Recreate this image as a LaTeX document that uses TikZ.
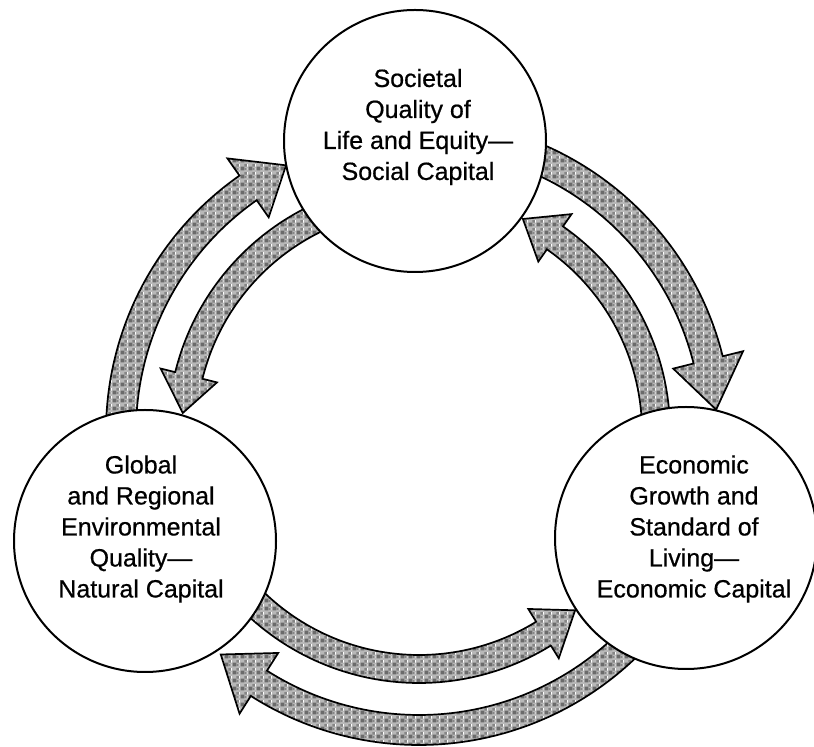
\documentclass[tikz,border=0pt]{standalone}
\usepackage{fontspec}
\setmainfont{Liberation Sans}
\usetikzlibrary{patterns.meta}
\definecolor{arrowgray}{gray}{0.72}
\definecolor{blotgray}{gray}{0.42}
\definecolor{blotgrayb}{gray}{0.52}
\tikzdeclarepattern{
  name=mottle,
  type=colored,
  bottom left={(0pt,0pt)},
  top right={(8pt,8pt)},
  tile size={(8pt,8pt)},
  code={
    \fill[blotgray] (0.8pt,0.8pt) rectangle (4.8pt,4.8pt);
    \fill[blotgrayb] (4.8pt,4.8pt) rectangle (7.6pt,7.6pt);
    \fill[blotgrayb] (5.2pt,1.2pt) rectangle (7.2pt,3.2pt);
  }
}
\tikzset{
  blockarrow/.style={preaction={fill=arrowgray},
    preaction={pattern=mottle},
    draw=black, line width=1.7pt},
  bubble/.style={circle, draw=black, line width=2pt, fill=white,
    minimum size=262pt, inner sep=0pt},
  caption/.style={align=center, inner sep=0pt,
    font=\addfontfeature{FakeBold=0.6}\fontsize{25}{31}\selectfont}
}
% #1 mid radius, #2 half width, #3 head overhang, #4 tail angle, #5 head base angle, #6 tip angle
\newcommand{\bandarrow}[6]{%
  \pgfmathsetmacro\aro{#1+#2}%
  \pgfmathsetmacro\ari{#1-#2}%
  \pgfmathsetmacro\arbo{#1+#2+#3}%
  \pgfmathsetmacro\arbi{#1-#2-#3}%
  \path[blockarrow] (#4:\aro pt) arc[start angle=#4, end angle=#5, radius=\aro pt]
    -- (#5:\arbo pt) -- (#6:#1pt) -- (#5:\arbi pt) -- (#5:\ari pt)
    arc[start angle=#5, end angle=#4, radius=\ari pt] -- cycle;}
\begin{document}
\begin{tikzpicture}[x=1pt,y=1pt]
\useasboundingbox (0,0) rectangle (814,747);
\fill[white] (0,0) rectangle (814,747);
\coordinate (O) at (419,315);
\begin{scope}[shift={(O)}]
  % outer ring, clockwise
  \bandarrow{298}{15}{21}{190}{125}{116.5}
  \bandarrow{298}{15}{21}{80}{14}{4.3}
  \bandarrow{298}{15}{21}{345}{237.5}{228.3}
  % inner ring, counter-clockwise
  \bandarrow{237}{14}{15}{97}{166.2}{175.4}
  \bandarrow{237}{14}{15}{-12}{55}{64}
  \bandarrow{237}{14}{15}{-168}{-58.3}{-48.8}
\end{scope}
\node[bubble] (soc) at (415,606) {};
\node[bubble] (nat) at (145,206) {};
\node[bubble] (eco) at (686,209) {};
\node[caption] (soct) at (418,620) {Societal\\Quality of\\Life and Equity—\\Social Capital};
\node[caption] (natt) at (141,218) {Global\\and Regional\\Environmental\\Quality—\\Natural Capital};
\node[caption] (ecot) at (694,218) {Economic\\Growth and\\Standard of\\Living—\\Economic Capital};
\end{tikzpicture}
\end{document}
